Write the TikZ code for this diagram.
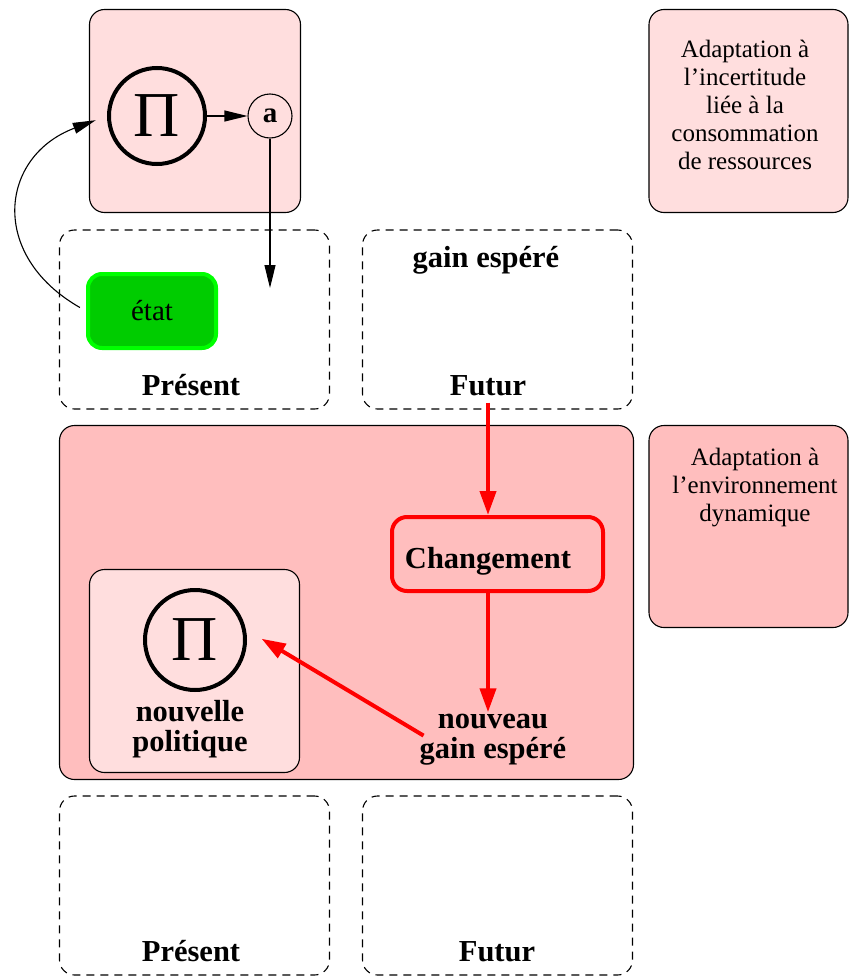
\documentclass[tikz,border=0pt]{standalone}
\usepackage{fontspec}
\setmainfont{Liberation Serif}
\usetikzlibrary{arrows.meta,positioning}
\definecolor{pinklight}{HTML}{FFDEDE}
\definecolor{pinkmid}{HTML}{FFBEBE}
\definecolor{statefill}{HTML}{00CC00}
\definecolor{stateedge}{HTML}{00FF00}
\definecolor{alarm}{HTML}{FF0000}
\tikzset{
  every node/.style={font=\fontsize{25}{28}\selectfont},
  panel/.style={draw=black,line width=1.1pt,rounded corners=15pt,fill=pinklight,inner sep=0pt},
  hotpanel/.style={panel,fill=pinkmid},
  slot/.style={draw=black,line width=1.1pt,dash pattern=on 8pt off 6pt,rounded corners=15pt,inner sep=0pt,minimum width=270,minimum height=179},
  policy/.style={circle,draw=black,line width=4pt,inner sep=0pt,minimum size=96,font=\fontsize{64}{64}\selectfont},
  action/.style={circle,draw=black,line width=1.1pt,inner sep=0pt,minimum size=44,font=\fontsize{29}{29}\selectfont\bfseries},
  statebox/.style={draw=stateedge,fill=statefill,line width=4pt,rounded corners=14pt,minimum width=128,minimum height=74,inner sep=0pt,font=\fontsize{29}{29}\selectfont},
  alarmbox/.style={draw=alarm,line width=4pt,rounded corners=15pt,minimum width=211,minimum height=74,inner sep=0pt},
  boldtext/.style={font=\fontsize{30.5}{30}\bfseries,inner sep=2pt,align=center},
  flow/.style={-{Triangle[length=23pt,width=11pt]},line width=1.1pt,draw=black},
  redflow/.style={-{Triangle[length=24pt,width=16pt]},line width=4pt,draw=alarm}
}
\begin{document}
\begin{tikzpicture}[x=1pt,y=-1pt]
  \useasboundingbox (0,0) rectangle (850,977);
  % panneaux
  \node[panel,minimum width=211,minimum height=203] (polbox) at (195,111) {};
  \node[panel,minimum width=199,minimum height=203] (note1) at (748.5,111) {};
  \node[hotpanel,minimum width=574,minimum height=354] (envbox) at (346.5,602.5) {};
  \node[hotpanel,minimum width=199,minimum height=202] (note2) at (748.5,526.5) {};
  \node[panel,minimum width=210,minimum height=203] (newbox) at (194.5,671) {};
  \node[slot] (present1) at (194.5,319.5) {};
  \node[slot] (futur1) at (497.5,319.5) {};
  \node[slot] (present2) at (194.5,885.5) {};
  \node[slot] (futur2) at (497.5,885.5) {};

  % textes des panneaux de droite
  \node[align=center] (note1txt) at (745,105) {Adaptation à\\l’incertitude\\liée à la\\consommation\\de ressources};
  \node[align=center] (note2txt) at (755,487) {Adaptation à\\l’environnement\\dynamique};

  % politique courante
  \node[policy] (pi) at (157,116) {Π};
  \node[action] (act) at (270,116) {a};
  \coordinate (aend) at (270,288);
  \node[statebox] (etat) at (152,311) {état};
  \node[boldtext,anchor=base] (presentlbl) at (191,395) {Présent};
  \node[boldtext,anchor=base] (futurlbl) at (488,395) {Futur};
  \node[boldtext,anchor=base] (gainlbl) at (486,267) {gain espéré};

  \draw[flow] (pi) -- (act);
  \draw[flow] (act) -- (aend);
  \draw[flow,shorten <=7pt,shorten >=12pt] (etat.west) .. controls (-12,255) and (0,156) .. (pi.west);

  % changement
  \node[alarmbox] (change) at (497.5,554) {};
  \node[boldtext,anchor=base] (changelbl) at (488,568) {Changement};
  \node[boldtext] (gain2) at (493,740) {nouveau\\gain espéré};
  \node[policy,line width=4pt,minimum size=100] (pi2) at (195,640) {Π};
  \node[boldtext] (newpol) at (190,729) {nouvelle\\politique};

  \draw[redflow,shorten <=5pt] (futurlbl.south) -- (futurlbl.south |- change.north);
  \draw[redflow] (change.south -| futurlbl) -- (futurlbl |- gain2.north);
  \draw[redflow,shorten <=-7pt,shorten >=17pt] ([yshift=8pt]gain2.west) -- ([yshift=10pt]pi2.east);

  % bas
  \node[boldtext,anchor=base] (present2lbl) at (191,961) {Présent};
  \node[boldtext,anchor=base] (futur2lbl) at (497,961) {Futur};
\end{tikzpicture}
\end{document}
